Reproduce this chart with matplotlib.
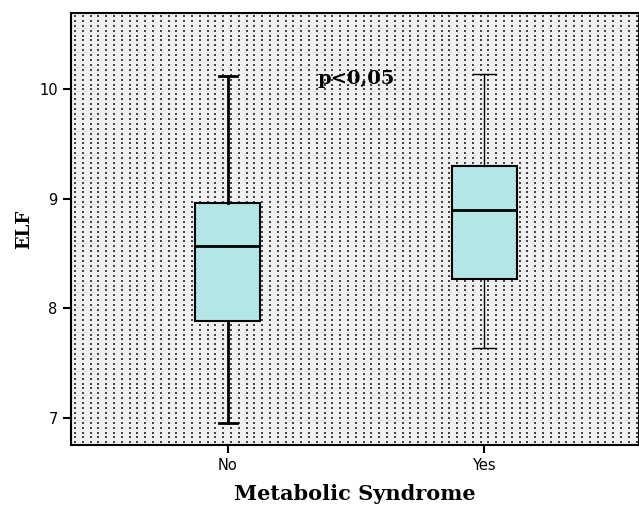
import matplotlib
matplotlib.use("Agg")
import numpy as np
import matplotlib.pyplot as plt

# box summary values
groups = ["No", "Yes"]
whisk_lo = [6.95, 7.64]
q1 = [7.88, 8.27]
med = [8.57, 8.90]
q3 = [8.96, 9.30]
whisk_hi = [10.12, 10.14]
yticks = [7, 8, 9, 10]

fig = plt.figure(figsize=(6.39, 5.15), dpi=100)
ax = fig.add_axes([0.111, 0.136, 0.889, 0.839])

# dotted grey background (texture only)
ax.set_facecolor("#f0f0f0")
gx, gy = np.meshgrid(np.arange(0.007, 1.0, 7.8 / 568), np.arange(0.006, 1.0, 4.9 / 432))
ax.scatter(gx.ravel(), gy.ravel(), s=0.9, marker="s", c="#444444",
           linewidths=0, transform=ax.transAxes, zorder=0.5)

lws = [2.0, 1.0]
for i, g in enumerate(groups):
    s = dict(label=g, whislo=whisk_lo[i], q1=q1[i], med=med[i],
             q3=q3[i], whishi=whisk_hi[i], fliers=[])
    ax.bxp([s], positions=[i + 1], widths=0.254, patch_artist=True,
           showfliers=False,
           boxprops=dict(facecolor="#b3e6e6", edgecolor="black", linewidth=1.5),
           medianprops=dict(color="black", linewidth=2),
           whiskerprops=dict(color="black", linewidth=lws[i]),
           capprops=dict(color="black", linewidth=lws[i]),
           capwidths=0.07 if i == 0 else 0.09, zorder=3)

ax.set_xlim(0.387, 2.605)
ax.set_ylim(6.75, 10.70)
ax.set_yticks(yticks)
ax.set_yticklabels([str(t) for t in yticks])
ax.set_xticks([1, 2])
ax.set_xticklabels(groups)
ax.tick_params(axis="both", length=6, width=1.5, labelsize=10.5)
for sp in ax.spines.values():
    sp.set_linewidth(1.5)

ax.set_ylabel("ELF", fontsize=13, fontweight="bold", family="DejaVu Serif")
ax.set_xlabel("Metabolic Syndrome", fontsize=15, fontweight="bold",
              family="DejaVu Serif", labelpad=8)
ax.text(1.5, 10.10, "p<0,05", fontsize=14, fontweight="bold",
        family="DejaVu Serif", ha="center", va="center", zorder=4)

fig.savefig("out.png", dpi=100)
